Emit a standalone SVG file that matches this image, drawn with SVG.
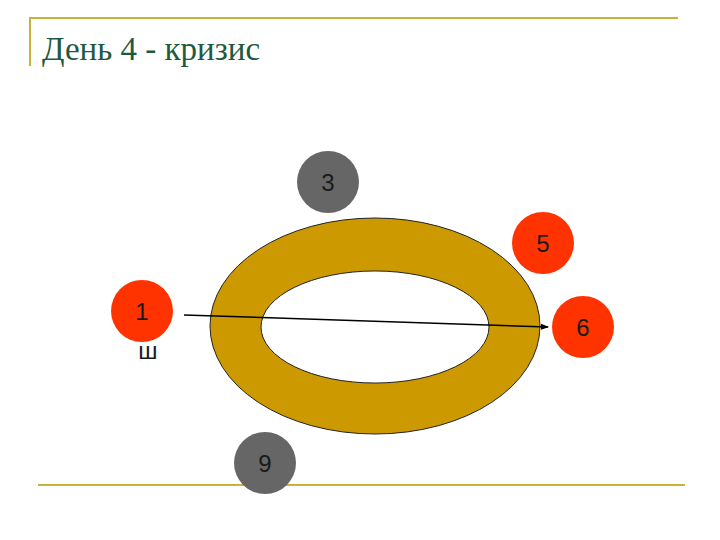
<svg xmlns="http://www.w3.org/2000/svg" width="720" height="540" viewBox="0 0 720 540">
<style>
.lbl{font-family:"Liberation Sans",Arial,sans-serif;font-size:24px;text-anchor:middle;fill:#1a1a1a}
.red{fill:#ff3300}
.gray{fill:#666666}
.rule{stroke:#c9b23a;stroke-width:2;fill:none}
</style>
<defs><marker id="ah" markerWidth="8" markerHeight="8" refX="7" refY="4" orient="auto" markerUnits="userSpaceOnUse"><path d="M0,1 L8,4 L0,7 Z" fill="#000"/></marker></defs>
<rect width="720" height="540" fill="#fff"/>
<g id="frame"><path class="rule" d="M30,66 V18 H678"/><line class="rule" x1="38" y1="485" x2="685" y2="485"/></g>
<text x="42" y="60" font-family="Liberation Serif,'Times New Roman',serif" font-size="33" fill="#1f5a40">День 4 - кризис</text>
<g id="ring"><path fill-rule="evenodd" fill="#cc9900" stroke="#222" stroke-width="1" d="M210,326 a165,108 0 1,0 330,0 a165,108 0 1,0 -330,0 Z M261,327 a114,56 0 1,0 228,0 a114,56 0 1,0 -228,0 Z"/></g>
<g id="n3"><circle class="gray" cx="328" cy="182" r="31"/><text class="lbl" x="328" y="191">3</text></g>
<g id="n5"><circle class="red" cx="543" cy="243" r="31"/><text class="lbl" x="543" y="252">5</text></g>
<g id="n1"><circle class="red" cx="142" cy="311" r="31"/><text class="lbl" x="142" y="320">1</text><text class="lbl" x="148" y="359">ш</text></g>
<g id="n6"><circle class="red" cx="583" cy="327" r="31"/><text class="lbl" x="583" y="336">6</text></g>
<g id="n9"><circle class="gray" cx="265" cy="463" r="31"/><text class="lbl" x="265" y="472">9</text></g>
<g id="connectors"><line x1="184" y1="315" x2="548" y2="327" stroke="#000" stroke-width="1.5" marker-end="url(#ah)"/></g>
</svg>
